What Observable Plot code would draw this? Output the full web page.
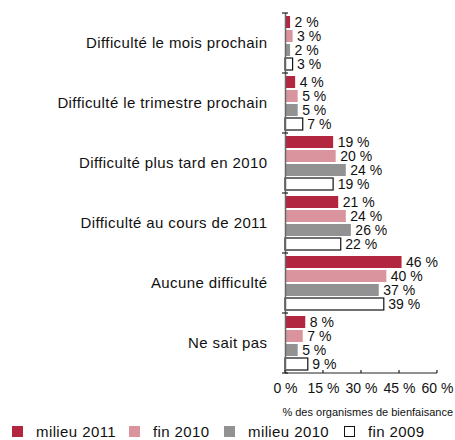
<!DOCTYPE html>
<html>
<head>
<meta charset="utf-8">
<script src="https://cdn.jsdelivr.net/npm/d3@7"></script>
<script src="https://cdn.jsdelivr.net/npm/@observablehq/plot@0.6"></script>
<style>
  body { margin: 0; background: #fff; font-family: "Liberation Sans", Arial, sans-serif; }
  #legend { display: flex; align-items: center; font-size: 15px; letter-spacing: 0.4px; color: #111; height: 20px; margin-top: 0px; }
  #legend .sw { width: 11px; height: 11px; display: inline-block; box-sizing: border-box; }
  #legend .item { display: flex; align-items: center; }
  g[aria-label^="fy-axis"] text { letter-spacing: 0.4px; }
</style>
</head>
<body>
<div id="chart"></div>
<div id="legend"></div>
<script>
const categories = [
  "Difficulté le mois prochain",
  "Difficulté le trimestre prochain",
  "Difficulté plus tard en 2010",
  "Difficulté au cours de 2011",
  "Aucune difficulté",
  "Ne sait pas"
];
const series = ["milieu 2011", "fin 2010", "milieu 2010", "fin 2009"];
const milieu2011 = [2, 4, 19, 21, 46, 8];
const fin2010 = [3, 5, 20, 24, 40, 7];
const milieu2010 = [2, 5, 24, 26, 37, 5];
const fin2009 = [3, 7, 19, 22, 39, 9];
const xTicks = [0, 15, 30, 45, 60];
const fills = ["#b3263f", "#d9949d", "#929292", "#ffffff"];
const strokes = ["none", "none", "none", "#111"];

const values = [milieu2011, fin2010, milieu2010, fin2009];
const data = [];
categories.forEach((c, i) => series.forEach((s, j) => data.push({cat: c, ser: s, v: values[j][i]})));

const chart = Plot.plot({
  width: 455,
  height: 420,
  marginLeft: 285,
  marginRight: 18,
  marginTop: 13,
  marginBottom: 47,
  style: {fontFamily: "'Liberation Sans', Arial, sans-serif", fontSize: "14px", color: "#111"},
  fy: {domain: categories, padding: 0, label: null},
  y: {domain: series, paddingInner: 0.15, paddingOuter: 0.2, axis: null},
  x: {domain: [0, 60], ticks: xTicks, label: null, axis: null},
  color: {domain: series, range: fills},
  marks: [
    Plot.barX(data, {
      fy: "cat", y: "ser", x: "v",
      fill: d => fills[series.indexOf(d.ser)],
      stroke: d => strokes[series.indexOf(d.ser)],
      strokeWidth: 1.2,
      insetTop: 0, insetBottom: 0
    }),
    Plot.text(data, {
      fy: "cat", y: "ser", x: "v",
      text: d => `${d.v} %`,
      textAnchor: "start", dx: 4, fill: "#111", fontSize: 14
    }),
    Plot.ruleX([0], {stroke: "#666", strokeWidth: 1.5}),
    Plot.axisFy({anchor: "left", tickSize: 0, tickPadding: 18, fontSize: 15, label: null}),
    Plot.axisX({ticks: xTicks, tickFormat: d => `${d} %`, tickSize: 0, tickPadding: 10, fontSize: 14, label: null})
  ]
});

document.getElementById("chart").appendChild(chart);

// axis lines & tick marks derived from Plot's scales
const fyS = chart.scale("fy");
const xS = chart.scale("x");
const fy = d3.scaleBand().domain(fyS.domain).range(fyS.range)
  .paddingInner(fyS.paddingInner || 0).paddingOuter(fyS.paddingOuter || 0);
const x = d3.scaleLinear().domain(xS.domain).range(xS.range);
const svg = d3.select(chart);
const g = svg.append("g").attr("stroke", "#222").attr("stroke-width", 1.2);
const bounds = fyS.domain.map(c => fy(c)).concat([fy(fyS.domain[fyS.domain.length - 1]) + fy.bandwidth()]);
const x0 = x(0);
const yBottom = bounds[bounds.length - 1];
g.selectAll(".yt").data(bounds).join("line")
  .attr("x1", x0 - 3).attr("x2", x0 + 3).attr("y1", d => d).attr("y2", d => d);
g.append("line").attr("x1", x0).attr("x2", x(60)).attr("y1", yBottom).attr("y2", yBottom);
g.selectAll(".xt").data(xTicks).join("line")
  .attr("x1", d => x(d)).attr("x2", d => x(d)).attr("y1", yBottom).attr("y2", yBottom - 3);
svg.append("text")
  .attr("x", 453).attr("y", 416).attr("text-anchor", "end")
  .attr("font-size", 11).attr("fill", "#111")
  .text("% des organismes de bienfaisance");

// legend
const lg = document.getElementById("legend");
const offsets = [12, 129, 224, 344];
series.forEach((s, i) => {
  const it = document.createElement("div");
  it.className = "item";
  it.style.position = "absolute";
  it.style.left = offsets[i] + "px";
  it.style.top = "423px";
  const sw = document.createElement("span");
  sw.className = "sw";
  sw.style.background = fills[i];
  if (strokes[i] !== "none") sw.style.border = "1px solid " + strokes[i];
  sw.style.marginRight = "13px";
  const t = document.createElement("span");
  t.textContent = s;
  it.appendChild(sw); it.appendChild(t);
  lg.appendChild(it);
});
</script>
</body>
</html>
